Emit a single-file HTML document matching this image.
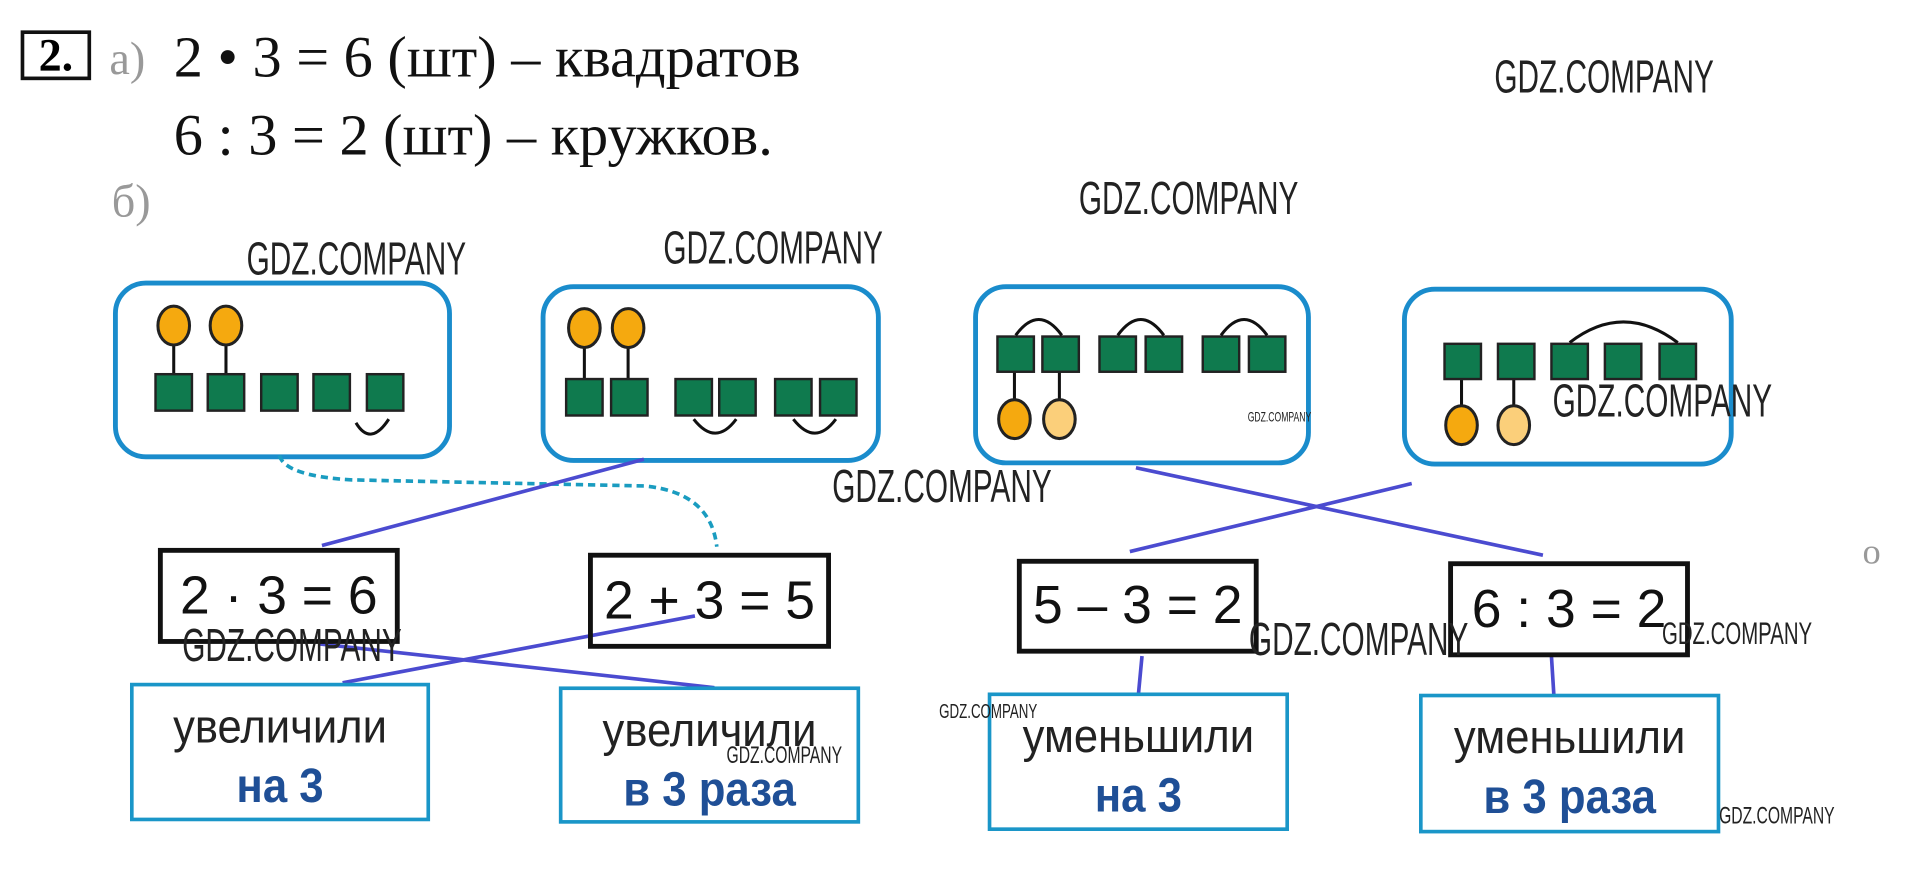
<!DOCTYPE html>
<html><head><meta charset="utf-8"><style>
html,body{margin:0;padding:0;background:#fff;overflow:hidden;width:1905px;height:876px}
#w{position:absolute;left:0;top:0;width:1568px;height:721px;transform:scale(1.2149);transform-origin:0 0}
.t{position:absolute;white-space:nowrap;line-height:1}
.ser{font-family:"Liberation Serif",serif;color:#111}
.wm{font-family:"Liberation Sans",sans-serif;color:#222;transform-origin:0 0;transform:scaleX(0.645)}
.eq{position:absolute;border:4px solid #111;box-sizing:border-box;font-family:"Liberation Sans",sans-serif;font-size:44px;display:flex;align-items:center;justify-content:center;color:#111}
.bb{position:absolute;border:3.5px solid #1a96c8;box-sizing:border-box;font-family:"Liberation Sans",sans-serif;text-align:center}
.bb .a{font-size:39px;color:#222;margin-top:12px;transform:scaleX(0.92)}
.bb .b{font-size:40px;color:#1f4f96;font-weight:bold;margin-top:4px;transform:scaleX(0.9)}
</style></head><body><div id="w">
<div style="position:absolute;left:17px;top:25px;width:58px;height:41px;border:3px solid #111;box-sizing:border-box;font-family:'Liberation Serif',serif;font-weight:bold;font-size:38px;line-height:36px;text-align:center">2.</div>
<div class="t ser" style="left:90px;top:30px;font-size:38px;color:#999">а)</div>
<div class="t ser" style="left:143px;top:24px;font-size:48px">2 • 3 = 6 (шт) – квадратов</div>
<div class="t ser" style="left:143px;top:88px;font-size:48px">6 : 3 = 2 (шт) – кружков.</div>
<div class="t ser" style="left:92px;top:147px;font-size:38px;color:#999">б)</div>

<svg width="1568" height="721" style="position:absolute;left:0;top:0">
<g fill="none" stroke="#1a8ccc" stroke-width="4">
<rect x="95" y="233" width="275" height="143" rx="25"/>
<rect x="447" y="236" width="276" height="143" rx="25"/>
<rect x="803" y="236" width="274" height="145" rx="25"/>
<rect x="1156" y="238" width="269" height="144" rx="25"/>
</g>
<g stroke="#111" stroke-width="2.5">
<line x1="143" y1="282" x2="143" y2="310"/><line x1="186" y1="282" x2="186" y2="310"/>
<line x1="481" y1="282" x2="481" y2="312"/><line x1="517" y1="282" x2="517" y2="312"/>
<line x1="835" y1="305" x2="835" y2="332"/><line x1="872" y1="305" x2="872" y2="332"/>
<line x1="1203" y1="312" x2="1203" y2="338"/><line x1="1246" y1="312" x2="1246" y2="338"/>
</g>
<g fill="#f5a90f" stroke="#222" stroke-width="2.5">
<ellipse cx="143" cy="268" rx="13" ry="16"/><ellipse cx="186" cy="268" rx="13" ry="16"/>
<ellipse cx="481" cy="270" rx="13" ry="16"/><ellipse cx="517" cy="270" rx="13" ry="16"/>
<ellipse cx="835" cy="345" rx="13" ry="16"/><ellipse cx="872" cy="345" rx="13" ry="16" fill="#fbcf7a"/>
<ellipse cx="1203" cy="350" rx="13" ry="16"/><ellipse cx="1246" cy="350" rx="13" ry="16" fill="#fbcf7a"/>
</g>
<g fill="#0f7a4e" stroke="#222" stroke-width="2">
<rect x="128" y="308" width="30" height="30"/><rect x="171" y="308" width="30" height="30"/><rect x="215" y="308" width="30" height="30"/><rect x="258" y="308" width="30" height="30"/><rect x="302" y="308" width="30" height="30"/>
<rect x="466" y="312" width="30" height="30"/><rect x="503" y="312" width="30" height="30"/><rect x="556" y="312" width="30" height="30"/><rect x="592" y="312" width="30" height="30"/><rect x="638" y="312" width="30" height="30"/><rect x="675" y="312" width="30" height="30"/>
<rect x="821" y="277" width="30" height="29"/><rect x="858" y="277" width="30" height="29"/><rect x="905" y="277" width="30" height="29"/><rect x="943" y="277" width="30" height="29"/><rect x="990" y="277" width="30" height="29"/><rect x="1028" y="277" width="30" height="29"/>
<rect x="1189" y="283" width="30" height="29"/><rect x="1233" y="283" width="30" height="29"/><rect x="1277" y="283" width="30" height="29"/><rect x="1321" y="283" width="30" height="29"/><rect x="1366" y="283" width="30" height="29"/>
</g>
<g fill="none" stroke="#111" stroke-width="2.5">
<path d="M293 348 Q305 368 320 345"/>
<path d="M571 345 Q589 368 606 345"/><path d="M653 345 Q671 368 688 345"/>
<path d="M836 276 Q855 250 874 276"/><path d="M920 276 Q939 250 958 276"/><path d="M1005 276 Q1024 250 1043 276"/>
<path d="M1292 282 Q1336 248 1381 282"/>
</g>
<path d="M230 375 Q235 392 290 395 L530 400 Q585 405 590 450" fill="none" stroke="#1a9cc0" stroke-width="3" stroke-dasharray="6,4"/>
<g stroke="#4b4bd0" stroke-width="3">
<line x1="265" y1="449" x2="530" y2="378"/>
<line x1="263" y1="530" x2="588" y2="566"/>
<line x1="282" y1="562" x2="572" y2="507"/>
<line x1="930" y1="454" x2="1162" y2="398"/>
<line x1="935" y1="385" x2="1270" y2="457"/>
<line x1="940" y1="540" x2="937" y2="572"/>
<line x1="1277" y1="540" x2="1279" y2="572"/>
</g>
</svg>

<div class="eq" style="left:130px;top:451px;width:199px;height:79px">2 · 3 = 6</div>
<div class="eq" style="left:484px;top:455px;width:200px;height:79px">2 + 3 = 5</div>
<div class="eq" style="left:837px;top:460px;width:199px;height:78px">5 – 3 = 2</div>
<div class="eq" style="left:1192px;top:462px;width:199px;height:79px">6 : 3 = 2</div>

<div class="bb" style="left:107px;top:562px;width:247px;height:114px"><div class="a">увеличили</div><div class="b">на 3</div></div>
<div class="bb" style="left:460px;top:565px;width:248px;height:113px"><div class="a">увеличили</div><div class="b">в 3 раза</div></div>
<div class="bb" style="left:813px;top:570px;width:248px;height:114px"><div class="a">уменьшили</div><div class="b">на 3</div></div>
<div class="bb" style="left:1168px;top:571px;width:248px;height:115px"><div class="a">уменьшили</div><div class="b">в 3 раза</div></div>

<div class="t ser" style="left:1533px;top:440px;font-size:30px;color:#999">о</div>

<div class="t wm" style="left:1230px;top:45px;font-size:38px">GDZ.COMPANY</div>
<div class="t wm" style="left:888px;top:145px;font-size:38px">GDZ.COMPANY</div>
<div class="t wm" style="left:203px;top:195px;font-size:38px">GDZ.COMPANY</div>
<div class="t wm" style="left:546px;top:186px;font-size:38px">GDZ.COMPANY</div>
<div class="t wm" style="left:1278px;top:312px;font-size:38px">GDZ.COMPANY</div>
<div class="t wm" style="left:685px;top:382px;font-size:38px">GDZ.COMPANY</div>
<div class="t wm" style="left:150px;top:513px;font-size:38px">GDZ.COMPANY</div>
<div class="t wm" style="left:1028px;top:508px;font-size:38px">GDZ.COMPANY</div>
<div class="t wm" style="left:1368px;top:508px;font-size:26px">GDZ.COMPANY</div>
<div class="t wm" style="left:773px;top:577px;font-size:17px">GDZ.COMPANY</div>
<div class="t wm" style="left:598px;top:612px;font-size:20px">GDZ.COMPANY</div>
<div class="t wm" style="left:1415px;top:662px;font-size:20px">GDZ.COMPANY</div>
<div class="t wm" style="left:1027px;top:339px;font-size:11px">GDZ.COMPANY</div>
</div></body></html>
